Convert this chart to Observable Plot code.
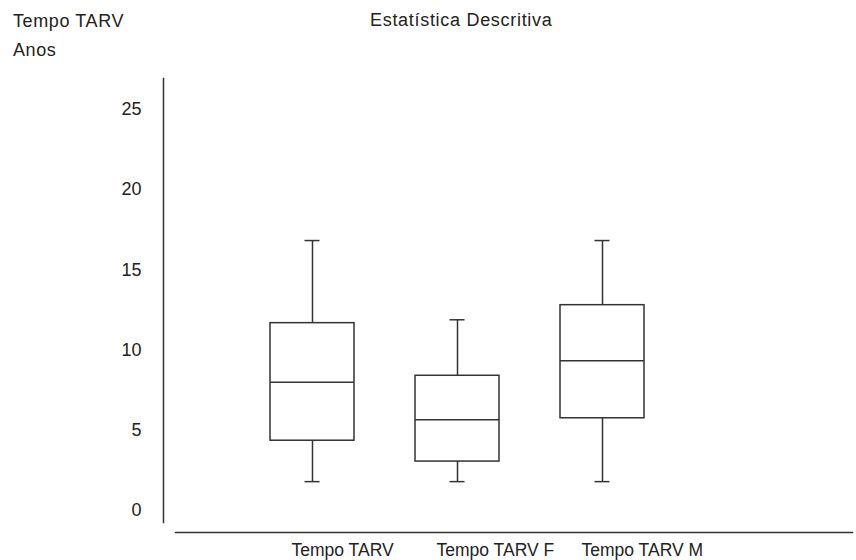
<!DOCTYPE html>
<html>
<head>
<meta charset="utf-8">
<script src="https://cdn.jsdelivr.net/npm/d3@7"></script>
<script src="https://cdn.jsdelivr.net/npm/@observablehq/plot@0.6"></script>
<style>
  html, body { margin: 0; padding: 0; background: #fff; }
  #wrap { position: relative; width: 856px; height: 560px; overflow: hidden; font-family: "Liberation Sans", Arial, sans-serif; color: #222; }
  .hdr { position: absolute; font-size: 18px; line-height: 18px; white-space: nowrap; letter-spacing: 0.6px; }
  #chart { position: absolute; left: 0; top: 60px; }
</style>
</head>
<body>
<div id="wrap">
  <div class="hdr" style="left:13px; top:12px;">Tempo TARV</div>
  <div class="hdr" style="left:13px; top:41px;">Anos</div>
  <div class="hdr" style="left:370px; top:11px; letter-spacing:0.7px;">Estatística Descritiva</div>
  <div id="chart"></div>
</div>
<script>
const categories = ["Tempo TARV", "Tempo TARV F", "Tempo TARV M"];
const minValues    = [1.8, 1.8, 1.8];
const q1Values     = [4.35, 3.05, 5.75];
const medianValues = [8.0, 5.65, 9.33];
const q3Values     = [11.68, 8.4, 12.8];
const maxValues    = [16.83, 11.89, 16.83];
const yTicks = [0, 5, 10, 15, 20, 25];

const data = categories.map((c, i) => ({
  cat: c, min: minValues[i], q1: q1Values[i], median: medianValues[i], q3: q3Values[i], max: maxValues[i]
}));

const stroke = "#333";
const sw = 1.5;

const chart = Plot.plot({
  width: 856,
  height: 500,
  marginLeft: 163,
  marginRight: 4,
  marginTop: 18,
  marginBottom: 28,
  style: { fontFamily: "'Liberation Sans', Arial, sans-serif", fontSize: "18px", color: "#222", background: "#fff" },
  x: { type: "band", domain: categories, range: [207.3, 706.6], padding: 0.42, label: null },
  y: { domain: [0, 25], range: [450, 49], label: null },
  marks: [
    Plot.frame({ anchor: "left", insetBottom: 10, stroke: stroke, strokeWidth: sw }),
    Plot.frame({ anchor: "bottom", insetLeft: 12, stroke: stroke, strokeWidth: sw }),
    Plot.axisY({ anchor: "left", ticks: yTicks, tickSize: 0, tickPadding: 22, label: null, fontSize: 18 }),
    Plot.axisX({ anchor: "bottom", tickSize: 0, tickPadding: 11, textAnchor: "start", dx: -21, label: null, fontSize: 17.5 }),
    Plot.ruleX(data, { x: "cat", y1: "min", y2: "max", stroke: stroke, strokeWidth: sw }),
    Plot.barY(data, { x: "cat", y1: "q1", y2: "q3", fill: "#fff", stroke: stroke, strokeWidth: sw }),
    Plot.tickY(data, { x: "cat", y: "median", stroke: stroke, strokeWidth: sw }),
    Plot.tickY(data, { x: "cat", y: "max", stroke: stroke, strokeWidth: sw, insetLeft: 34.5, insetRight: 34.5 }),
    Plot.tickY(data, { x: "cat", y: "min", stroke: stroke, strokeWidth: sw, insetLeft: 34.5, insetRight: 34.5 })
  ]
});
document.getElementById("chart").appendChild(chart);
</script>
</body>
</html>
